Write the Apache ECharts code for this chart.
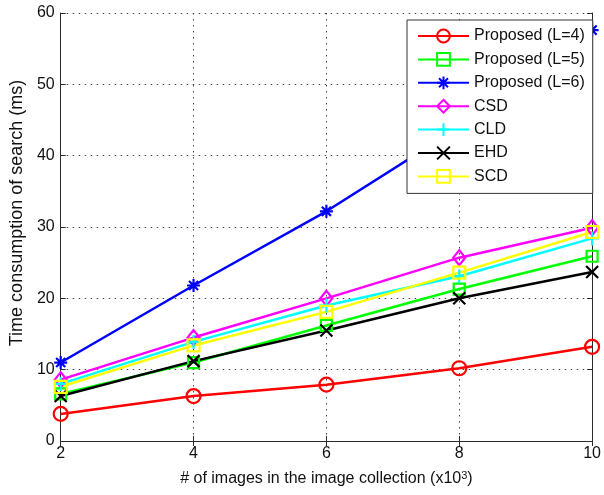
<!DOCTYPE html>
<html>
<head>
<meta charset="utf-8">
<script src="https://cdn.jsdelivr.net/npm/echarts@6/dist/echarts.min.js"></script>
<style>
  html, body { margin: 0; padding: 0; background: #fff; }
  #chart { width: 604px; height: 495px; }
</style>
</head>
<body>
<div id="chart"></div>
<script>
// Collection sizes (thousands of images)
var collectionSizes = [2, 4, 6, 8, 10];

// Search time (ms) for each method
var proposedL4 = [3.8, 6.3, 7.9, 10.2, 13.2];
var proposedL5 = [6.6, 11.0, 16.2, 21.3, 25.9];
var proposedL6 = [11.0, 21.8, 32.2, 44.0, 57.6];
var csd = [8.6, 14.5, 20.0, 25.7, 29.9];
var cld = [8.0, 13.9, 19.0, 23.1, 28.4];
var ehd = [6.3, 11.2, 15.5, 20.0, 23.7];
var scd = [7.6, 13.4, 18.1, 23.6, 29.3];

var seriesNames = ['Proposed (L=4)', 'Proposed (L=5)', 'Proposed (L=6)', 'CSD', 'CLD', 'EHD', 'SCD'];
var seriesValues = [proposedL4, proposedL5, proposedL6, csd, cld, ehd, scd];
var seriesColors = ['#ff0000', '#00ff00', '#0000ff', '#ff00ff', '#00ffff', '#000000', '#ffff00'];

// Marker glyphs: open circle, square, asterisk, diamond, plus, cross, square
var starPath = 'path://M0,-10L0,10M-10,0L10,0M-7,-7L7,7M-7,7L7,-7';
var plusPath = 'path://M0,-10L0,10M-10,0L10,0';
var crossPath = 'path://M-10,-10L10,10M-10,10L10,-10';
var seriesSymbols = ['circle', 'rect', starPath, 'diamond', plusPath, crossPath, 'rect'];
var seriesSymbolSizes = [14, 11, 13, [12, 15], 14, 12, 12];

function pairs(values) {
  return collectionSizes.map(function (x, i) { return [x, values[i]]; });
}

var series = seriesNames.map(function (name, i) {
  return {
    name: name,
    type: 'line',
    data: pairs(seriesValues[i]),
    symbol: seriesSymbols[i],
    symbolSize: seriesSymbolSizes[i],
    showAllSymbol: true,
    animation: false,
    lineStyle: { color: seriesColors[i], width: 2.5 },
    itemStyle: { color: 'rgba(0,0,0,0)', borderColor: seriesColors[i], borderWidth: 2.2 },
    emphasis: { disabled: true }
  };
});

var axisColor = '#2a2a2a';
var gridDots = { show: true, lineStyle: { color: '#444444', width: 1, type: [1.5, 4.5] } };

var chart = echarts.init(document.getElementById('chart'), null, { renderer: 'canvas' });
chart.setOption({
  animation: false,
  backgroundColor: '#ffffff',
  textStyle: { fontFamily: 'Liberation Sans, Arial, sans-serif' },
  grid: { left: 55.5, right: 6.5, top: 13, bottom: 54, containLabel: false },
  legend: {
    orient: 'vertical',
    left: 407,
    top: 20,
    padding: [8, 8, 9, 10],
    itemWidth: 51,
    itemHeight: 16,
    itemGap: 7.4,
    backgroundColor: '#ffffff',
    borderColor: '#333333',
    borderWidth: 1,
    textStyle: { fontSize: 16, color: '#111', fontFamily: 'Liberation Sans, Arial, sans-serif' },
    data: seriesNames
  },
  xAxis: [{
    type: 'value',
    min: 2, max: 10, interval: 2,
    position: 'bottom',
    name: '# of images in the image collection (x10{sup|3})',
    nameLocation: 'middle',
    nameGap: 29,
    nameTextStyle: {
      fontSize: 16, color: '#111',
      rich: { sup: { fontSize: 11, color: '#111', verticalAlign: 'top', padding: [0, 0, 7, 0] } }
    },
    axisLine: { show: true, lineStyle: { color: axisColor, width: 1 } },
    axisTick: { show: true, inside: true, length: 5, lineStyle: { color: axisColor } },
    axisLabel: { fontSize: 16, color: '#111', margin: 5 },
    splitLine: gridDots
  }, {
    type: 'value',
    min: 2, max: 10, interval: 2,
    position: 'top',
    axisLine: { show: true, lineStyle: { color: axisColor, width: 1 } },
    axisTick: { show: true, inside: true, length: 5, lineStyle: { color: axisColor } },
    axisLabel: { show: false },
    splitLine: { show: false }
  }],
  yAxis: [{
    type: 'value',
    min: 0, max: 60, interval: 10,
    position: 'left',
    name: 'Time consumption of search (ms)',
    nameLocation: 'middle',
    nameGap: 31,
    nameTextStyle: { fontSize: 18, color: '#111', padding: [0, 0, 0, 28] },
    axisLine: { show: true, lineStyle: { color: axisColor, width: 1 } },
    axisTick: { show: true, inside: true, length: 5, lineStyle: { color: axisColor } },
    axisLabel: { fontSize: 16, color: '#111', margin: 6 },
    splitLine: gridDots
  }, {
    type: 'value',
    min: 0, max: 60, interval: 10,
    position: 'right',
    axisLine: { show: true, lineStyle: { color: axisColor, width: 1 } },
    axisTick: { show: true, inside: true, length: 5, lineStyle: { color: axisColor } },
    axisLabel: { show: false },
    splitLine: { show: false }
  }],
  series: series
});
</script>
</body>
</html>
